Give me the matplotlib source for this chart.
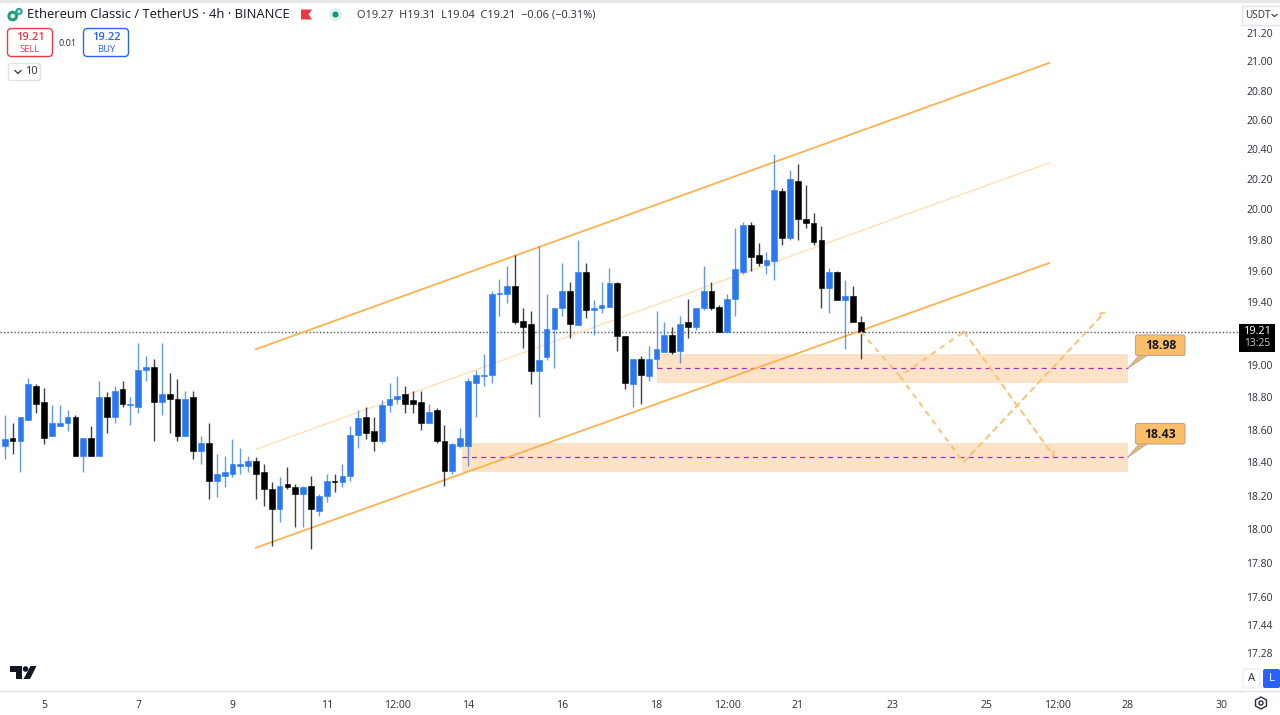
import matplotlib
matplotlib.use('Agg')
import matplotlib.pyplot as plt
from matplotlib.patches import Circle, FancyBboxPatch, Polygon, Rectangle
from matplotlib.ticker import NullFormatter, NullLocator

plt.rcParams['font.family'] = ['Open Sans', 'DejaVu Sans']

# 4h candles
opens = [18.50, 18.55, 18.53, 18.66, 18.87, 18.77, 18.56, 18.62, 18.64, 18.68,
         18.44, 18.55, 18.44, 18.80, 18.68, 18.85, 18.75, 18.74, 18.97, 18.99,
         18.77, 18.82, 18.79, 18.56, 18.80, 18.47, 18.52, 18.29, 18.32, 18.33,
         18.38, 18.38, 18.41, 18.34, 18.24, 18.12, 18.27, 18.25, 18.21, 18.26,
         18.11, 18.20, 18.29, 18.28, 18.32, 18.57, 18.68, 18.59, 18.53, 18.75,
         18.79, 18.82, 18.78, 18.77, 18.64, 18.72, 18.53, 18.35, 18.50, 18.50,
         18.89, 18.93, 18.94, 19.45, 19.45, 19.50, 19.28, 19.26, 18.96, 19.05,
         19.23, 19.36, 19.47, 19.25, 19.59, 19.35, 19.36, 19.37, 19.52, 19.18,
         18.88, 19.04, 18.93, 19.04, 19.08, 19.19, 19.09, 19.27, 19.24, 19.36,
         19.47, 19.37, 19.21, 19.42, 19.59, 19.90, 19.70, 19.64, 19.66, 20.12,
         19.81, 20.19, 19.94, 19.91, 19.80, 19.49, 19.59, 19.41, 19.44, 19.27]
highs = [18.69, 18.64, 18.68, 18.92, 18.88, 18.86, 18.75, 18.75, 18.72, 18.69,
         18.55, 18.62, 18.90, 18.83, 18.87, 18.90, 18.80, 19.14, 19.06, 19.04,
         19.14, 18.95, 18.91, 18.84, 18.84, 18.56, 18.64, 18.45, 18.44, 18.54,
         18.49, 18.44, 18.43, 18.39, 18.28, 18.31, 18.37, 18.27, 18.26, 18.32,
         18.21, 18.33, 18.33, 18.39, 18.62, 18.72, 18.74, 18.68, 18.78, 18.89,
         18.93, 18.87, 18.84, 18.84, 18.76, 18.73, 18.63, 18.52, 18.61, 18.92,
         18.97, 19.07, 19.47, 19.55, 19.63, 19.70, 19.36, 19.34, 19.76, 19.45,
         19.36, 19.65, 19.53, 19.80, 19.65, 19.41, 19.53, 19.62, 19.53, 19.18,
         19.04, 19.06, 19.12, 19.34, 19.27, 19.24, 19.31, 19.42, 19.36, 19.63,
         19.53, 19.38, 19.45, 19.88, 19.92, 19.92, 19.78, 19.72, 20.37, 20.14,
         20.26, 20.30, 20.16, 19.98, 19.89, 19.62, 19.60, 19.54, 19.50, 19.31]
lows = [18.42, 18.45, 18.34, 18.66, 18.70, 18.51, 18.56, 18.62, 18.59, 18.44,
        18.34, 18.44, 18.44, 18.58, 18.64, 18.74, 18.63, 18.70, 18.90, 18.53,
        18.69, 18.58, 18.53, 18.56, 18.42, 18.39, 18.18, 18.19, 18.25, 18.31,
        18.33, 18.34, 18.18, 18.14, 17.90, 18.04, 18.24, 18.01, 18.01, 17.88,
        18.08, 18.16, 18.22, 18.25, 18.29, 18.49, 18.54, 18.47, 18.52, 18.71,
        18.76, 18.70, 18.70, 18.60, 18.64, 18.52, 18.26, 18.33, 18.49, 18.38,
        18.68, 18.87, 18.89, 19.31, 19.39, 19.26, 19.11, 18.88, 18.68, 19.03,
        18.98, 19.31, 19.17, 19.25, 19.30, 19.19, 19.33, 19.37, 19.09, 18.85,
        18.74, 18.76, 18.90, 18.98, 19.08, 19.07, 19.01, 19.17, 19.22, 19.35,
        19.35, 19.21, 19.21, 19.31, 19.58, 19.60, 19.63, 19.58, 19.54, 19.77,
        19.80, 19.80, 19.88, 19.77, 19.36, 19.33, 19.41, 19.10, 19.27, 19.04]
closes = [18.54, 18.53, 18.68, 18.88, 18.76, 18.55, 18.64, 18.64, 18.68, 18.44,
          18.55, 18.44, 18.80, 18.68, 18.84, 18.76, 18.76, 18.97, 18.99, 18.77,
          18.82, 18.79, 18.56, 18.79, 18.47, 18.52, 18.29, 18.33, 18.34, 18.39,
          18.39, 18.41, 18.33, 18.24, 18.12, 18.26, 18.25, 18.21, 18.25, 18.12,
          18.20, 18.29, 18.28, 18.32, 18.57, 18.67, 18.58, 18.53, 18.75, 18.79,
          18.81, 18.76, 18.76, 18.64, 18.71, 18.53, 18.35, 18.51, 18.55, 18.90,
          18.94, 18.94, 19.45, 19.46, 19.50, 19.27, 19.24, 18.96, 19.03, 19.23,
          19.36, 19.47, 19.26, 19.59, 19.35, 19.36, 19.38, 19.52, 19.18, 18.89,
          19.04, 18.94, 19.04, 19.10, 19.19, 19.08, 19.26, 19.24, 19.36, 19.47,
          19.36, 19.21, 19.42, 19.61, 19.90, 19.69, 19.65, 19.67, 20.13, 19.81,
          20.20, 19.94, 19.91, 19.79, 19.49, 19.59, 19.41, 19.44, 19.27, 19.21]
first_bar = -5

# drawings
upper_x, upper_y = [27, 128], [19.10, 20.99]
middle_x, middle_y = [27, 128], [18.48, 20.31]
lower_x, lower_y = [27, 128], [17.89, 19.65]
path_a_x, path_a_y = [104, 109, 117.15, 128.7], [19.21, 18.93, 19.21, 18.43]
path_b_x, path_b_y = [109, 117.1, 135.2], [18.93, 18.40, 19.34]

levels = [18.98, 18.43]
zone_tops = [19.07, 18.52]
zone_bottoms = [18.89, 18.34]
zone_starts = [78, 53.2]
zone_end = 138

price_ticks = [17.28, 17.44, 17.60, 17.80, 18.00, 18.20, 18.40, 18.60, 18.80, 19.00,
               19.40, 19.60, 19.80, 20.00, 20.20, 20.40, 20.60, 20.80, 21.00, 21.20]
time_ticks = [0, 12, 24, 36, 45, 54, 66, 78, 87, 96, 108, 120, 129, 138, 150]
time_labels = ['5', '7', '9', '11', '12:00', '14', '16', '18', '12:00', '21',
               '23', '25', '12:00', '28', '30']
last_price = 19.21

BLUE = '#2a78f0'
BLACK = '#000000'
ORANGE = '#f9b352'
PATH = '#fbc47c'
ZONE = '#fde3c6'
TEXT = '#131722'
AXIS_TEXT = '#2a2e39'
W, H = 1280, 715

fig = plt.figure(figsize=(12.8, 7.15), dpi=100)
ax = fig.add_axes([0, (H - 690) / H, 1240 / W, 690 / H])
ax.set_yscale('log')
ax.set_xlim(-5.603, 152.3)
ax.set_ylim(17.07, 21.43)

for side in ['top', 'left', 'right', 'bottom']:
    ax.spines[side].set_visible(False)

ax.yaxis.tick_right()
ax.yaxis.set_minor_locator(NullLocator())
ax.yaxis.set_minor_formatter(NullFormatter())
ax.set_yticks(price_ticks)
ax.set_yticklabels([f'{p:.2f}' for p in price_ticks], fontsize=7.5, color=AXIS_TEXT)
ax.tick_params(axis='y', length=0, pad=4.3)
ax.set_xticks(time_ticks)
ax.set_xticklabels(time_labels, fontsize=7.6, color=AXIS_TEXT)
ax.tick_params(axis='x', length=0, pad=7.5)

# zones and levels go under the candles
for lv, top, bot, start in zip(levels, zone_tops, zone_bottoms, zone_starts):
    ax.fill_between([start, zone_end], bot, top, color=ZONE, lw=0, zorder=1)
    ax.plot([start, zone_end], [lv, lv], color='#a62cc0', lw=0.9, dashes=(4, 3.5), zorder=2)

ax.axhline(last_price, color='#555555', lw=1, ls=(0, (1, 1.5)), zorder=2)

ax.plot(middle_x, middle_y, color='#fde0b8', lw=1, zorder=2)
ax.plot(upper_x, upper_y, color=ORANGE, lw=1.3, zorder=3)
ax.plot(lower_x, lower_y, color=ORANGE, lw=1.3, zorder=3)

# candles
for i, (o, h, l, c) in enumerate(zip(opens, highs, lows, closes)):
    x = first_bar + i
    color = BLUE if c >= o else BLACK
    ax.plot([x, x], [l, h], color=color, lw=1, solid_capstyle='butt',
            alpha=0.75, zorder=4)
    ax.bar(x, abs(c - o), bottom=min(o, c), width=0.74, color=color,
           edgecolor=color, linewidth=0.4, zorder=5)

# forecast path
for px, py in [(path_a_x, path_a_y), (path_b_x, path_b_y)]:
    ax.plot(px[:-1], py[:-1], color=PATH, lw=1.5, dashes=(2.6, 2.6), zorder=6)
    ax.annotate('', xy=(px[-1], py[-1]), xytext=(px[-2], py[-2]), zorder=6,
                arrowprops=dict(arrowstyle='->,head_length=0.3,head_width=0.2',
                                color=PATH, lw=1.5, ls=(0, (2.6, 2.6)),
                                shrinkA=0, shrinkB=0))

# everything around the chart is placed in screen pixels
ui = fig.add_axes([0, 0, 1, 1], facecolor='none')
ui.set_xlim(0, W)
ui.set_ylim(H, 0)
ui.axis('off')

ui.plot([0, W], [0.5, 0.5], color='#e6e6e6', lw=2)
ui.plot([0, W], [691, 691], color='#e0e3eb', lw=1)

# level callouts
for lv, box_top, tip_y in zip(levels, [335, 423.5], [368.5, 457.5]):
    box_bottom = box_top + 20.5
    ui.add_patch(Polygon([(1127.5, tip_y), (1139, box_bottom), (1147, box_bottom)],
                         fc='#e8b878', ec='#b9a88e', lw=0.6))
    ui.add_patch(FancyBboxPatch((1135.5, box_top), 49.5, 20.5, boxstyle='round,pad=0,rounding_size=2',
                                fc='#fdbe68', ec='#b9a88e', lw=0.8))
    ui.text(1160.5, box_top + 10.5, f'{lv:.2f}', fontsize=8.8, fontweight='bold', color=TEXT,
            ha='center', va='center')

# pair logo
ui.add_patch(Circle((12.7, 16), 3.8, fc='white', ec='#1f9e78', lw=2.2))
ui.add_patch(Circle((19, 11.5), 2.6, fc='white', ec='#2aa6a0', lw=1.6))

ui.text(27, 15, 'Ethereum Classic / TetherUS · 4h · BINANCE', fontsize=9.35, color=TEXT, va='center')
ui.add_patch(Polygon([(301, 9.5), (312, 9.5), (308.5, 14.5), (312, 19.5), (301, 19.5)], fc='#f23645', ec='none'))
ui.add_patch(Circle((335.5, 14.5), 6.5, fc='#dcf0ec', ec='none'))
ui.add_patch(Circle((335.5, 14.5), 3, fc='#089981', ec='none'))
ui.text(357, 15, 'O19.27  H19.31  L19.04  C19.21  −0.06 (−0.31%)', fontsize=7.9, color=AXIS_TEXT, va='center')

# sell / buy buttons
ui.add_patch(FancyBboxPatch((7.5, 28.5), 45, 28, boxstyle='round,pad=0,rounding_size=4', fc='white', ec='#f23645', lw=1))
ui.add_patch(FancyBboxPatch((83.5, 28.5), 45, 28, boxstyle='round,pad=0,rounding_size=4', fc='white', ec='#2962ff', lw=1))
ui.text(30, 37, '19.21', fontsize=8, color='#f23645', ha='center', va='center', fontweight='semibold')
ui.text(30, 50, 'SELL', fontsize=6.8, color='#f23645', ha='center', va='center')
ui.text(106, 37, '19.22', fontsize=8, color='#2962ff', ha='center', va='center', fontweight='semibold')
ui.text(106, 50, 'BUY', fontsize=6.8, color='#2962ff', ha='center', va='center')
ui.text(68, 43.5, '0.01', fontsize=6.6, color=AXIS_TEXT, ha='center', va='center')

ui.add_patch(FancyBboxPatch((8.5, 63.5), 32, 17, boxstyle='round,pad=0,rounding_size=2', fc='white', ec='#e0e3eb', lw=1))
ui.plot([15, 18, 21], [70.5, 73.5, 70.5], color=AXIS_TEXT, lw=0.9)
ui.text(31, 72, '10', fontsize=8, color=AXIS_TEXT, ha='center', va='center')

# currency box
ui.add_patch(Rectangle((1241.5, 6), 45, 19, fc='white', ec='#e0e3eb', lw=1))
ui.text(1245, 15.5, 'USDT', fontsize=7.2, color=AXIS_TEXT, va='center')
ui.plot([1272, 1274.5, 1277], [14.5, 16.5, 14.5], color=AXIS_TEXT, lw=0.8)

# last price tag
ui.add_patch(Rectangle((1239, 324), 36, 27.5, fc=BLACK, ec='none'))
ui.text(1257.5, 332, f'{last_price:.2f}', fontsize=7.8, color='white', ha='center', va='center')
ui.text(1257.5, 344, '13:25', fontsize=7.4, color='#cccccc', ha='center', va='center')

# scale mode buttons
ui.add_patch(FancyBboxPatch((1243, 669), 17, 19, boxstyle='round,pad=0,rounding_size=2', fc='white', ec='#eceef2', lw=1))
ui.text(1251.5, 678.5, 'A', fontsize=8.2, color=AXIS_TEXT, ha='center', va='center')
ui.add_patch(FancyBboxPatch((1263, 669), 17, 19, boxstyle='round,pad=0,rounding_size=2', fc='#2962ff', ec='none'))
ui.text(1271.5, 678.5, 'L', fontsize=8.2, color='white', ha='center', va='center')

# settings gear
ui.add_patch(Polygon([(1261, 697), (1266.5, 700), (1266.5, 706), (1261, 709), (1255.5, 706), (1255.5, 700)],
                     fc='white', ec=AXIS_TEXT, lw=1))
ui.add_patch(Circle((1261, 703), 2, fc='white', ec=AXIS_TEXT, lw=1))

# TradingView mark
ui.add_patch(Polygon([(10, 666), (22, 666), (22, 679), (16, 679), (16, 671.5), (10, 671.5)], fc='#131722', ec='none'))
ui.add_patch(Circle((25.5, 669), 2.8, fc='#131722', ec='none'))
ui.add_patch(Polygon([(30.5, 666), (36.5, 666), (30, 679), (23.5, 679)], fc='#131722', ec='none'))

fig.savefig('out.png', dpi=100)
